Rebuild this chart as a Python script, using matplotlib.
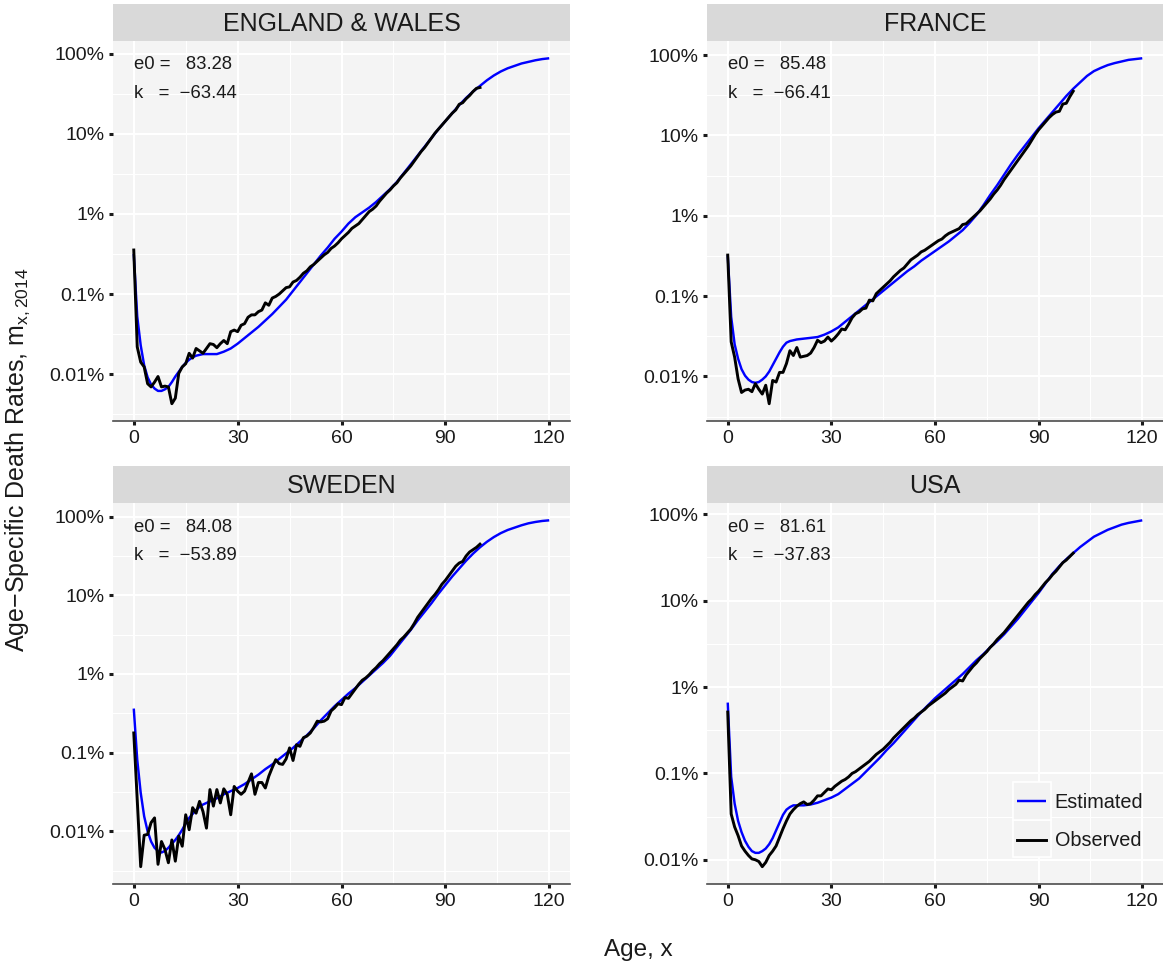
import numpy as np
import matplotlib
matplotlib.use("Agg")
import matplotlib.pyplot as plt
from matplotlib.ticker import FixedLocator, FixedFormatter, NullFormatter
from matplotlib.transforms import blended_transform_factory
from matplotlib.patches import Rectangle

plt.rcParams["font.family"] = ["Liberation Sans", "DejaVu Sans"]
plt.rcParams["mathtext.fontset"] = "custom"
plt.rcParams["mathtext.rm"] = "Liberation Sans"
plt.rcParams["mathtext.it"] = "Liberation Sans:italic"

# ages
obs_age = np.arange(0, 101)
est_age = np.array(list(range(0, 21)) + list(range(22, 121, 2)))

# log10 of death rates
ew_obs = [-2.45, -3.66, -3.85, -3.91, -4.12, -4.16, -4.10, -4.03, -4.16, -4.15,
          -4.16, -4.37, -4.30, -3.99, -3.91, -3.87, -3.74, -3.80, -3.68, -3.71,
          -3.74, -3.68, -3.62, -3.63, -3.67, -3.62, -3.58, -3.62, -3.47, -3.45,
          -3.47, -3.39, -3.37, -3.29, -3.26, -3.26, -3.22, -3.20, -3.11, -3.14,
          -3.05, -3.03, -3.00, -2.96, -2.92, -2.91, -2.85, -2.83, -2.79, -2.74,
          -2.71, -2.66, -2.63, -2.59, -2.55, -2.51, -2.48, -2.43, -2.40, -2.36,
          -2.31, -2.27, -2.23, -2.18, -2.15, -2.12, -2.07, -2.02, -1.97, -1.94,
          -1.90, -1.84, -1.79, -1.74, -1.70, -1.65, -1.61, -1.55, -1.50, -1.45,
          -1.40, -1.34, -1.28, -1.22, -1.17, -1.11, -1.05, -0.99, -0.94, -0.89,
          -0.84, -0.79, -0.74, -0.70, -0.63, -0.61, -0.56, -0.52, -0.47, -0.43,
          -0.42]
ew_est = [-2.50, -3.28, -3.64, -3.89, -4.04, -4.13, -4.18, -4.21, -4.21, -4.19,
          -4.16, -4.10, -4.03, -3.97, -3.91, -3.86, -3.82, -3.79, -3.77, -3.76,
          -3.75,
          -3.75, -3.75, -3.72, -3.68, -3.62, -3.55, -3.48, -3.41, -3.33, -3.25,
          -3.16, -3.07, -2.96, -2.85, -2.74, -2.63, -2.52, -2.42, -2.31, -2.22,
          -2.12, -2.04, -1.98, -1.92, -1.85, -1.77, -1.69, -1.60, -1.49, -1.38,
          -1.27, -1.16, -1.05, -0.94, -0.84, -0.74, -0.64, -0.55, -0.47, -0.40,
          -0.33, -0.27, -0.22, -0.18, -0.15, -0.12, -0.10, -0.08, -0.065, -0.055]

fr_obs = [-2.49, -3.57, -3.76, -4.03, -4.20, -4.17, -4.16, -4.19, -4.09, -4.16,
          -4.22, -4.11, -4.34, -4.05, -4.07, -3.95, -3.95, -3.84, -3.68, -3.74,
          -3.64, -3.76, -3.75, -3.74, -3.71, -3.64, -3.55, -3.58, -3.56, -3.51,
          -3.56, -3.52, -3.47, -3.41, -3.42, -3.35, -3.27, -3.22, -3.20, -3.16,
          -3.15, -3.05, -3.06, -2.97, -2.93, -2.89, -2.85, -2.81, -2.76, -2.72,
          -2.68, -2.65, -2.60, -2.55, -2.52, -2.49, -2.45, -2.43, -2.40, -2.37,
          -2.34, -2.31, -2.29, -2.25, -2.22, -2.20, -2.18, -2.16, -2.11, -2.10,
          -2.06, -2.02, -1.98, -1.94, -1.89, -1.84, -1.79, -1.73, -1.68, -1.62,
          -1.55, -1.49, -1.43, -1.37, -1.31, -1.25, -1.19, -1.13, -1.06, -0.99,
          -0.93, -0.88, -0.83, -0.78, -0.74, -0.71, -0.70, -0.61, -0.60, -0.52,
          -0.45]
fr_est = [-2.49, -3.26, -3.60, -3.78, -3.91, -3.99, -4.04, -4.07, -4.08, -4.07,
          -4.04, -4.00, -3.94, -3.86, -3.78, -3.70, -3.63, -3.58, -3.56, -3.55,
          -3.54,
          -3.53, -3.52, -3.51, -3.48, -3.44, -3.39, -3.32, -3.25, -3.18, -3.11,
          -3.04, -2.97, -2.90, -2.83, -2.76, -2.69, -2.63, -2.56, -2.50, -2.44,
          -2.38, -2.32, -2.25, -2.18, -2.09, -1.99, -1.87, -1.74, -1.62, -1.49,
          -1.36, -1.24, -1.13, -1.02, -0.91, -0.81, -0.71, -0.61, -0.51, -0.42,
          -0.34, -0.26, -0.20, -0.16, -0.125, -0.10, -0.08, -0.06, -0.05, -0.04]

se_obs = [-2.75, -3.60, -4.45, -4.05, -4.04, -3.89, -3.83, -4.42, -4.13, -4.23,
          -4.40, -4.11, -4.38, -4.06, -4.19, -3.79, -3.98, -3.70, -3.77, -3.62,
          -3.75, -3.96, -3.47, -3.68, -3.47, -3.64, -3.46, -3.53, -3.79, -3.43,
          -3.49, -3.53, -3.49, -3.38, -3.27, -3.53, -3.38, -3.38, -3.45, -3.30,
          -3.19, -3.09, -3.14, -3.15, -3.08, -2.94, -3.10, -2.90, -2.92, -2.81,
          -2.79, -2.75, -2.68, -2.60, -2.61, -2.60, -2.57, -2.47, -2.43, -2.38,
          -2.39, -2.30, -2.31, -2.25, -2.19, -2.13, -2.08, -2.05, -2.01, -1.96,
          -1.92, -1.87, -1.83, -1.78, -1.73, -1.68, -1.63, -1.57, -1.53, -1.48,
          -1.43, -1.36, -1.28, -1.22, -1.16, -1.10, -1.04, -0.99, -0.93, -0.86,
          -0.81, -0.75, -0.69, -0.63, -0.59, -0.57, -0.50, -0.45, -0.42, -0.39,
          -0.35]
se_est = [-2.44, -3.09, -3.51, -3.81, -4.00, -4.13, -4.21, -4.25, -4.27, -4.25,
          -4.21, -4.16, -4.11, -4.05, -3.98, -3.90, -3.83, -3.78, -3.73, -3.69,
          -3.66,
          -3.62, -3.58, -3.53, -3.49, -3.45, -3.40, -3.34, -3.28, -3.21, -3.15,
          -3.08, -3.01, -2.94, -2.86, -2.78, -2.69, -2.59, -2.50, -2.41, -2.33,
          -2.25, -2.18, -2.10, -2.02, -1.94, -1.86, -1.77, -1.66, -1.55, -1.44,
          -1.32, -1.21, -1.10, -0.98, -0.87, -0.76, -0.66, -0.56, -0.47, -0.39,
          -0.32, -0.26, -0.21, -0.17, -0.14, -0.11, -0.085, -0.068, -0.055, -0.047]

us_obs = [-2.29, -3.47, -3.62, -3.72, -3.84, -3.90, -3.95, -3.99, -4.00, -4.02,
          -4.08, -4.03, -3.95, -3.90, -3.84, -3.74, -3.64, -3.55, -3.47, -3.42,
          -3.38, -3.35, -3.33, -3.36, -3.35, -3.31, -3.26, -3.26, -3.22, -3.18,
          -3.19, -3.15, -3.12, -3.09, -3.07, -3.04, -3.00, -2.98, -2.95, -2.92,
          -2.89, -2.86, -2.82, -2.78, -2.75, -2.72, -2.68, -2.64, -2.59, -2.55,
          -2.51, -2.47, -2.43, -2.39, -2.36, -2.32, -2.29, -2.26, -2.22, -2.19,
          -2.16, -2.13, -2.10, -2.07, -2.03, -2.00, -1.97, -1.92, -1.93, -1.86,
          -1.81, -1.76, -1.72, -1.67, -1.63, -1.59, -1.54, -1.50, -1.45, -1.41,
          -1.37, -1.32, -1.27, -1.22, -1.17, -1.12, -1.07, -1.02, -0.98, -0.93,
          -0.89, -0.84, -0.79, -0.75, -0.70, -0.66, -0.61, -0.56, -0.53, -0.49,
          -0.45]
us_est = [-2.18, -3.04, -3.35, -3.55, -3.68, -3.78, -3.85, -3.90, -3.92, -3.92,
          -3.90, -3.87, -3.82, -3.75, -3.66, -3.57, -3.48, -3.42, -3.39, -3.37,
          -3.37,
          -3.37, -3.36, -3.34, -3.31, -3.28, -3.24, -3.18, -3.12, -3.06, -2.98,
          -2.90, -2.82, -2.73, -2.65, -2.56, -2.47, -2.38, -2.29, -2.21, -2.13,
          -2.06, -1.99, -1.92, -1.85, -1.77, -1.69, -1.62, -1.54, -1.47, -1.39,
          -1.30, -1.21, -1.11, -1.01, -0.91, -0.80, -0.69, -0.60, -0.52, -0.45,
          -0.38, -0.32, -0.26, -0.22, -0.18, -0.15, -0.12, -0.10, -0.085, -0.07]

countries = ["ENGLAND & WALES", "FRANCE", "SWEDEN", "USA"]
e0_vals = ["83.28", "85.48", "84.08", "81.61"]
k_vals = ["\u221263.44", "\u221266.41", "\u221253.89", "\u221237.83"]
observed = [ew_obs, fr_obs, se_obs, us_obs]
estimated = [ew_est, fr_est, se_est, us_est]

x_breaks = [0, 30, 60, 90, 120]
x_minor = [15, 45, 75, 105]
y_breaks = [1e-4, 1e-3, 1e-2, 1e-1, 1.0]
y_labels = ["0.01%", "0.1%", "1%", "10%", "100%"]
y_minor = [10 ** -4.5, 10 ** -3.5, 10 ** -2.5, 10 ** -1.5, 10 ** -0.5]

W, H = 1163, 965
# panel boxes in pixels: left, top, right, bottom
boxes = [(113, 41, 570, 421), (707, 41, 1163, 421),
         (113, 503, 570, 884), (707, 503, 1163, 884)]
strip_h = 37
txt = "#1a1a1a"

fig = plt.figure(figsize=(W / 100, H / 100), dpi=100)
fig.patch.set_facecolor("white")

for i in range(4):
    l, t, r, b = boxes[i]
    ax = fig.add_axes([l / W, 1 - b / H, (r - l) / W, (b - t) / H])
    ax.set_facecolor("#F4F4F4")
    ax.plot(est_age, 10 ** np.array(estimated[i]), color="#0000FF", lw=1.75,
            label="Estimated", zorder=3, solid_capstyle="butt")
    ax.plot(obs_age, 10 ** np.array(observed[i]), color="black", lw=2.1,
            label="Observed", zorder=4)
    ax.set_yscale("log")
    ax.margins(x=0.05, y=0.05)

    ax.xaxis.set_major_locator(FixedLocator(x_breaks))
    ax.xaxis.set_minor_locator(FixedLocator(x_minor))
    ax.yaxis.set_major_locator(FixedLocator(y_breaks))
    ax.yaxis.set_major_formatter(FixedFormatter(y_labels))
    ax.yaxis.set_minor_locator(FixedLocator(y_minor))
    ax.yaxis.set_minor_formatter(NullFormatter())

    ax.grid(which="major", color="white", lw=1.5)
    ax.grid(which="minor", color="white", lw=0.8)
    ax.set_axisbelow(True)
    for s in ["top", "right", "left"]:
        ax.spines[s].set_visible(False)
    ax.spines["bottom"].set_color("#4d4d4d")
    ax.spines["bottom"].set_linewidth(1.2)
    ax.tick_params(which="major", length=3.2, width=2.2, color=txt,
                   labelsize=14, labelcolor=txt, pad=3)
    ax.tick_params(which="minor", length=0)

    tr = blended_transform_factory(ax.transData, ax.transAxes)
    ax.text(0, 0.937, "e0 =   " + e0_vals[i], transform=tr, ha="left",
            va="center", fontsize=13.3, color=txt)
    ax.text(0, 0.863, "k   =  " + k_vals[i], transform=tr, ha="left",
            va="center", fontsize=13.3, color=txt)

    # facet strip
    sax = fig.add_axes([l / W, 1 - t / H, (r - l) / W, strip_h / H])
    sax.set_facecolor("#D9D9D9")
    sax.set_xticks([])
    sax.set_yticks([])
    for s in sax.spines.values():
        s.set_visible(False)
    sax.text(0.5, 0.47, countries[i], ha="center", va="center",
             fontsize=18, color=txt, transform=sax.transAxes)

    if i == 3:
        for y0 in [0.071, 0.169]:
            ax.add_patch(Rectangle((0.670, y0), 0.084, 0.098, transform=ax.transAxes,
                                   facecolor="#F2F2F2", edgecolor="white", lw=1.2,
                                   zorder=5))
        ax.legend(loc="lower left", bbox_to_anchor=(0.680, 0.088), frameon=False,
                  fontsize=14.3, handlelength=1.47, handletextpad=0.42,
                  labelspacing=1.0, borderpad=0, borderaxespad=0, labelcolor=txt)

fig.text(638 / W, 1 - 950 / H, "Age, x", ha="center", va="center",
         fontsize=17.5, color=txt)
fig.text(18 / W, 1 - 460 / H, "Age\u2212Specific Death Rates, m$_{\\mathrm{x,2014}}$",
         ha="center", va="center", rotation=90, fontsize=18, color=txt)

fig.savefig("out.png", dpi=100)
